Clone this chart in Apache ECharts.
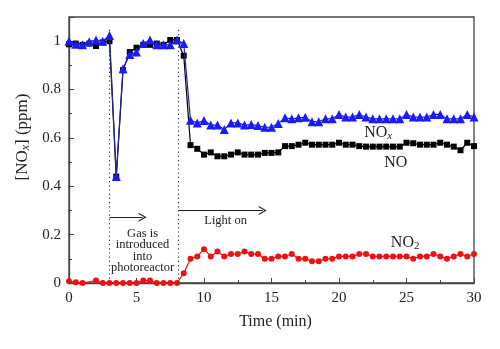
<!DOCTYPE html>
<html>
<head>
<meta charset="utf-8">
<script src="https://cdn.jsdelivr.net/npm/echarts@6/dist/echarts.min.js"></script>
<style>html,body{margin:0;padding:0;background:#fff}#c{width:500px;height:349px}</style>
</head>
<body>
<div id="c"></div>
<script>
var times = [0,0.5,1,1.5,2,2.5,3,3.5,4,4.5,5,5.5,6,6.5,7,7.5,8,8.5,9,9.5,10,10.5,11,11.5,12,12.5,13,13.5,14,14.5,15,15.5,16,16.5,17,17.5,18,18.5,19,19.5,20,20.5,21,21.5,22,22.5,23,23.5,24,24.5,25,25.5,26,26.5,27,27.5,28,28.5,29,29.5,30];
var noxValues = [1.00,0.987,0.985,0.998,1.005,1.0,1.024,0.44,0.886,0.945,0.955,0.99,1.005,0.985,0.985,0.985,1.005,0.99,0.673,0.662,0.672,0.653,0.653,0.635,0.662,0.662,0.653,0.655,0.651,0.644,0.644,0.66,0.683,0.679,0.683,0.685,0.667,0.667,0.679,0.679,0.697,0.686,0.686,0.697,0.686,0.679,0.679,0.679,0.679,0.679,0.697,0.686,0.686,0.686,0.697,0.697,0.679,0.679,0.679,0.697,0.686];
var noValues = [0.987,0.99,0.985,0.99,0.98,0.995,1.0,0.44,0.88,0.955,0.973,0.985,0.985,0.99,0.985,1.005,1.005,0.94,0.57,0.555,0.531,0.54,0.524,0.524,0.531,0.54,0.531,0.531,0.531,0.538,0.538,0.54,0.566,0.566,0.572,0.58,0.572,0.572,0.572,0.572,0.58,0.572,0.572,0.566,0.564,0.564,0.564,0.564,0.564,0.564,0.58,0.578,0.572,0.572,0.572,0.58,0.572,0.564,0.549,0.58,0.566];
var no2Values = [0.007,0.003,0.0,null,0.01,0.0,0.0,0.0,0.0,0.0,0.0,0.01,0.01,0.0,0.0,0.0,0.0,0.04,0.10,0.11,0.14,0.11,0.13,0.11,0.12,0.12,0.13,0.12,0.12,0.10,0.10,0.11,0.11,0.12,0.10,0.10,0.09,0.09,0.10,0.10,0.11,0.11,0.11,0.12,0.12,0.11,0.11,0.11,0.11,0.11,0.11,0.10,0.11,0.11,0.12,0.11,0.10,0.11,0.12,0.11,0.12];
var xTicks = [0,5,10,15,20,25,30];
var yTicks = [0,0.2,0.4,0.6,0.8,1];
// annotation anchors in data units
var eventTimes = [3, 8.1];
var eventTop = 1.05;
var arrows = [ {from:[3,0.272], to:[5.45,0.272]}, {from:[8.1,0.30], to:[14.35,0.30]} ];
var textNotes = [
  {at:[5.45,0.133], text:'Gas is\nintroduced\ninto\nphotoreactor', size:12.5, lh:11.4},
  {at:[11.6,0.258], text:'Light on', size:12.5, lh:14}
];
var seriesLabels = [
  {at:[22.9,0.622], main:'NO', sub:'x', italic:true},
  {at:[24.2,0.498], main:'NO', sub:'', italic:false},
  {at:[24.9,0.167], main:'NO', sub:'2', italic:false}
];

function pairs(vals){ return times.map(function(t,i){ return [t, vals[i]]; }); }
var serif = "'Liberation Serif','DejaVu Serif',serif";
var chevron = 'path://M0,10 L5,0 L10,10 L8.6,10 L5,2.8 L1.4,10 Z';

var markData = [];
eventTimes.forEach(function(t){
  markData.push([{coord:[t,0], symbol:'none', lineStyle:{type:[1.2,3], color:'#333', width:1.1}}, {coord:[t,eventTop], symbol:'none'}]);
});
arrows.forEach(function(a){
  markData.push([{coord:a.from, symbol:'none', lineStyle:{type:'solid', color:'#222', width:1.1}}, {coord:a.to, symbol:chevron, symbolSize:[9,8]}]);
});

var chart = echarts.init(document.getElementById('c'), null, {renderer:'canvas'});
chart.setOption({
  animation:false,
  grid:{left:69, right:26, top:17, bottom:66, show:true, borderColor:'#444', borderWidth:1.3, backgroundColor:'transparent'},
  xAxis:{type:'value', min:0, max:30, interval:5,
    name:'Time (min)', nameLocation:'middle', nameGap:31,
    nameTextStyle:{fontFamily:serif, fontSize:16, color:'#222', padding:[0,0,0,8]},
    axisLine:{show:true, onZero:false, lineStyle:{color:'#444', width:1.3}},
    axisTick:{show:true, inside:true, length:5, lineStyle:{color:'#444'}},
    minorTick:{show:true, splitNumber:2, length:3, lineStyle:{color:'#444'}},
    splitLine:{show:false},
    axisLabel:{fontFamily:serif, fontSize:15, color:'#222', margin:8,
      formatter:function(v){ return xTicks.indexOf(v) >= 0 ? String(v) : ''; }}
  },
  yAxis:{type:'value', min:0, max:1.1, interval:0.2,
    name:'[NO{s|x}] (ppm)', nameLocation:'middle', nameGap:37,
    nameTextStyle:{fontFamily:serif, fontSize:17, color:'#222', padding:[0,0,0,26],
      rich:{s:{fontFamily:serif, fontSize:12, fontStyle:'italic', color:'#222', verticalAlign:'bottom', lineHeight:13}}},
    axisLine:{show:true, onZero:false, lineStyle:{color:'#444', width:1.3}},
    axisTick:{show:true, inside:true, length:5, lineStyle:{color:'#444'}},
    minorTick:{show:true, splitNumber:2, length:3, lineStyle:{color:'#444'}},
    splitLine:{show:false},
    axisLabel:{fontFamily:serif, fontSize:15, color:'#222', margin:8,
      formatter:function(v){ var r = Math.round(v*10)/10; for (var i=0;i<yTicks.length;i++){ if (Math.abs(yTicks[i]-r)<1e-6 && Math.abs(v-r)<1e-6) return String(yTicks[i]); } return ''; }}
  },
  series:[
    {name:'NO2', type:'line', data:pairs(no2Values), connectNulls:true, symbol:'circle', symbolSize:6,
      itemStyle:{color:'#ee1111'}, lineStyle:{color:'#ee1111', width:1.2}, z:2,
      markLine:{silent:true, animation:false, label:{show:false}, symbol:'none', data:markData}},
    {name:'NO', type:'line', data:pairs(noValues), symbol:'rect', symbolSize:6,
      itemStyle:{color:'#000'}, lineStyle:{color:'#000', width:1.2}, z:3},
    {name:'NOx', type:'line', data:pairs(noxValues), symbol:'triangle', symbolSize:9,
      itemStyle:{color:'#1a1aff'}, lineStyle:{color:'#22229a', width:1.2}, z:4}
  ]
});

var g = [];
textNotes.forEach(function(n){
  var p = chart.convertToPixel({gridIndex:0}, n.at);
  g.push({type:'text', x:p[0], y:p[1], z:100, silent:true,
    style:{text:n.text, fontFamily:serif, fontSize:n.size, lineHeight:n.lh, fill:'#222', align:'center', verticalAlign:'middle',
      backgroundColor:'#fff', padding:[1,1]}});
});
seriesLabels.forEach(function(l){
  var p = chart.convertToPixel({gridIndex:0}, l.at);
  var txt = l.sub ? '{m|' + l.main + '}{s|' + l.sub + '}' : '{m|' + l.main + '}';
  g.push({type:'text', x:p[0], y:p[1], z:100, silent:true,
    style:{text:txt, align:'center', verticalAlign:'middle',
      rich:{m:{fontFamily:serif, fontSize:16, fill:'#222', lineHeight:18},
            s:{fontFamily:serif, fontSize:11, fill:'#222', fontStyle:l.italic?'italic':'normal', verticalAlign:'bottom', lineHeight:12}}}});
});
chart.setOption({graphic:g});
</script>
</body>
</html>
